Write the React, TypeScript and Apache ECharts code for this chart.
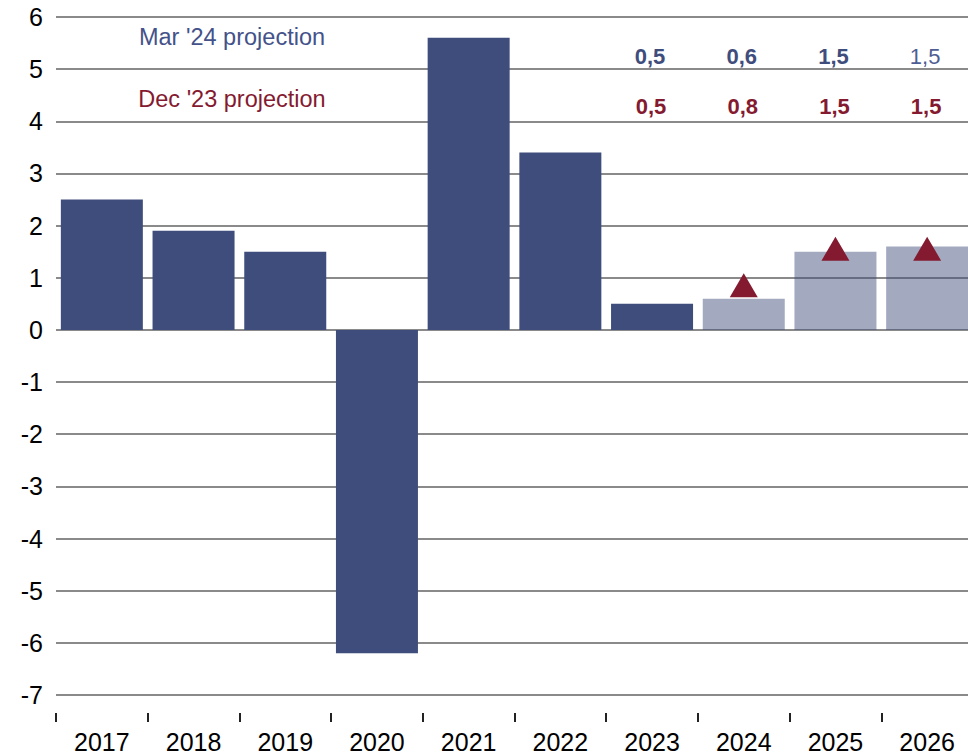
import React, { useEffect, useRef } from "react";
import * as echarts from "echarts";

const years = ["2017", "2018", "2019", "2020", "2021", "2022", "2023", "2024", "2025", "2026"];
const growth = [2.5, 1.9, 1.5, -6.2, 5.6, 3.4, 0.5, 0.6, 1.5, 1.6];
const isProjection = [false, false, false, false, false, false, false, true, true, true];
const dec23Markers = [null, null, null, null, null, null, null, 0.8, 1.5, 1.5];
const tableYears = ["2023", "2024", "2025", "2026"];
const mar24Labels = ["0,5", "0,6", "1,5", "1,5"];
const dec23Labels = ["0,5", "0,8", "1,5", "1,5"];
const yTicks = { min: -7, max: 6, interval: 1 };

const BLUE = "#3F4D7C";
const RED = "#841A30";
const FONT = "'Liberation Sans', Arial, sans-serif";

export default function App() {
  const ref = useRef<HTMLDivElement>(null);
  useEffect(() => {
    if (!ref.current) return;
    const chart = echarts.init(ref.current, null, { renderer: "svg" });
    chart.setOption({
      animation: false,
      textStyle: { fontFamily: FONT },
      grid: { left: 56, top: 17, width: 917, bottom: 60, containLabel: false },
      xAxis: {
        type: "category",
        data: years,
        offset: 18,
        axisLine: { show: false, onZero: false },
        axisTick: { show: true, length: 9, lineStyle: { color: "#222", width: 2 } },
        axisLabel: { fontSize: 25, lineHeight: 20, color: "#000", margin: 19, fontFamily: FONT },
        splitLine: { show: false },
      },
      yAxis: {
        type: "value",
        min: yTicks.min,
        max: yTicks.max,
        interval: yTicks.interval,
        axisLine: { show: false },
        axisTick: { show: false },
        axisLabel: { fontSize: 25, color: "#000", margin: 13, fontFamily: FONT },
        splitLine: { lineStyle: { color: "#8a8a8a", width: 2 } },
      },
      graphic: [
        {
          type: "text",
          x: 232,
          y: 37,
          style: {
            text: "Mar '24 projection",
            fill: "#44528A",
            fontSize: 23.5,
            fontFamily: FONT,
            textAlign: "center",
            textVerticalAlign: "middle",
          },
        },
        {
          type: "text",
          x: 232,
          y: 99,
          style: {
            text: "Dec '23 projection",
            fill: RED,
            fontSize: 23.5,
            fontFamily: FONT,
            textAlign: "center",
            textVerticalAlign: "middle",
          },
        },
      ],
      series: [
        {
          type: "bar",
          barWidth: 82,
          data: growth.map((v, i) => ({
            value: v,
            itemStyle: { color: BLUE, opacity: isProjection[i] ? 0.48 : 1 },
          })),
        },
        {
          type: "scatter",
          symbol: "triangle",
          symbolSize: [28, 24],
          symbolOffset: [0, -3],
          itemStyle: { color: RED, opacity: 1 },
          data: dec23Markers.map((v, i) => (v === null ? [years[i], NaN] : [years[i], v])),
          z: 5,
        },
        {
          type: "scatter",
          symbolSize: 0,
          silent: true,
          itemStyle: { opacity: 1 },
          data: tableYears.map((y, i) => ({
            value: [y, 5.235],
            label: {
              show: true,
              position: "inside",
              formatter: mar24Labels[i],
              fontSize: 22,
              fontFamily: FONT,
              fontWeight: i === 3 ? "normal" : "bold",
              color: i === 3 ? "#4E5D94" : BLUE,
              opacity: 1,
              offset: [-2, 0],
            },
          })),
        },
        {
          type: "scatter",
          symbolSize: 0,
          silent: true,
          itemStyle: { opacity: 1 },
          data: tableYears.map((y, i) => ({
            value: [y, 4.28],
            label: {
              show: true,
              position: "inside",
              formatter: dec23Labels[i],
              fontSize: 22,
              fontFamily: FONT,
              fontWeight: "bold",
              color: RED,
              opacity: 1,
              offset: [-1, 0],
            },
          })),
        },
      ],
    });
    return () => chart.dispose();
  }, []);
  return (
    <div style={{ position: "fixed", left: 0, top: 0, width: 968, height: 755, overflow: "hidden", background: "#fff" }}>
      <div ref={ref} style={{ width: 980, height: 755 }} />
    </div>
  );
}
